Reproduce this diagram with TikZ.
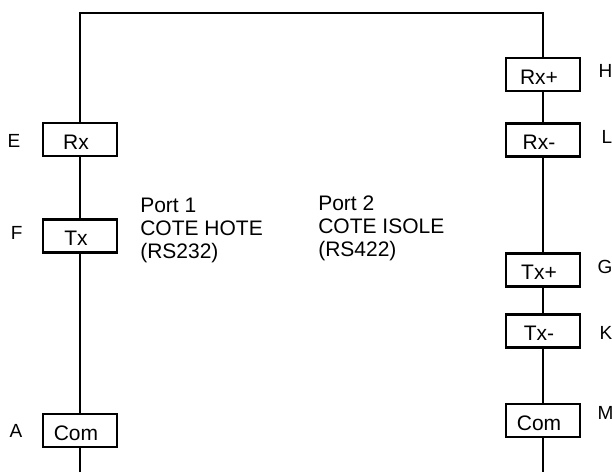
\documentclass[tikz,border=0pt]{standalone}
\usepackage{fontspec}
\setmainfont{Liberation Sans}
\usetikzlibrary{positioning}

\begin{document}
\begin{tikzpicture}[x=1pt,y=-1pt,
    line width=2.6pt,
    pin/.style={draw,minimum width=74pt,minimum height=33pt,inner sep=0pt,text height=19pt,text depth=0pt,
      execute at end node=\hspace*{8pt},font=\fontsize{21}{24}\selectfont},
    letter/.style={inner sep=0pt,font=\fontsize{19}{22}\selectfont},
    porttext/.style={anchor=north west,align=left,inner sep=0pt,font=\fontsize{21}{23}\selectfont}]
        \useasboundingbox (0,0) rectangle (612,472);

        % Corners and free ends
        \coordinate (tl) at (80,13);
        \coordinate (tr) at (543,13);
        \coordinate (bl) at (80,472);
        \coordinate (br) at (543,472);

        % Port 1 pins
        \node[pin] (rx) at (80,139.5) {Rx};
        \node[pin] (tx) at (80,236) {Tx};
        \node[pin] (com1) at (80,430.5) {Com};

        % Port 2 pins
        \node[pin] (rxp) at (543,74.5) {Rx+};
        \node[pin] (rxm) at (543,140) {Rx-};
        \node[pin] (txp) at (543,270) {Tx+};
        \node[pin] (txm) at (543,331) {Tx-};
        \node[pin] (com2) at (543,420.5) {Com};

        % Letters
        \node[letter,left=20pt of rx,yshift=-1.5pt] (e) {E};
        \node[letter,left=18pt of tx,yshift=3pt] (f) {F};
        \node[letter,left=18pt of com1] (a) {A};
        \node[letter,right=16pt of rxp,yshift=3.5pt] (h) {H};
        \node[letter,right=19pt of rxm,yshift=3pt] (l) {L};
        \node[letter,right=15pt of txp,yshift=3pt] (g) {G};
        \node[letter,right=17pt of txm,yshift=-2pt] (k) {K};
        \node[letter,right=15pt of com2,yshift=7.5pt] (m) {M};

        % Wiring
        \draw (bl) -- (com1) -- (tx) -- (rx) -- (tl) -- (tr) -- (rxp) -- (rxm) -- (txp) -- (txm) -- (com2) -- (br);

        % Port texts
        \node[porttext] (port1) at (139,197) {Port 1\\COTE HOTE\\(RS232)};
        \node[porttext] (port2) at (317,195) {Port 2\\COTE ISOLE\\(RS422)};
      \end{tikzpicture}
\end{document}
